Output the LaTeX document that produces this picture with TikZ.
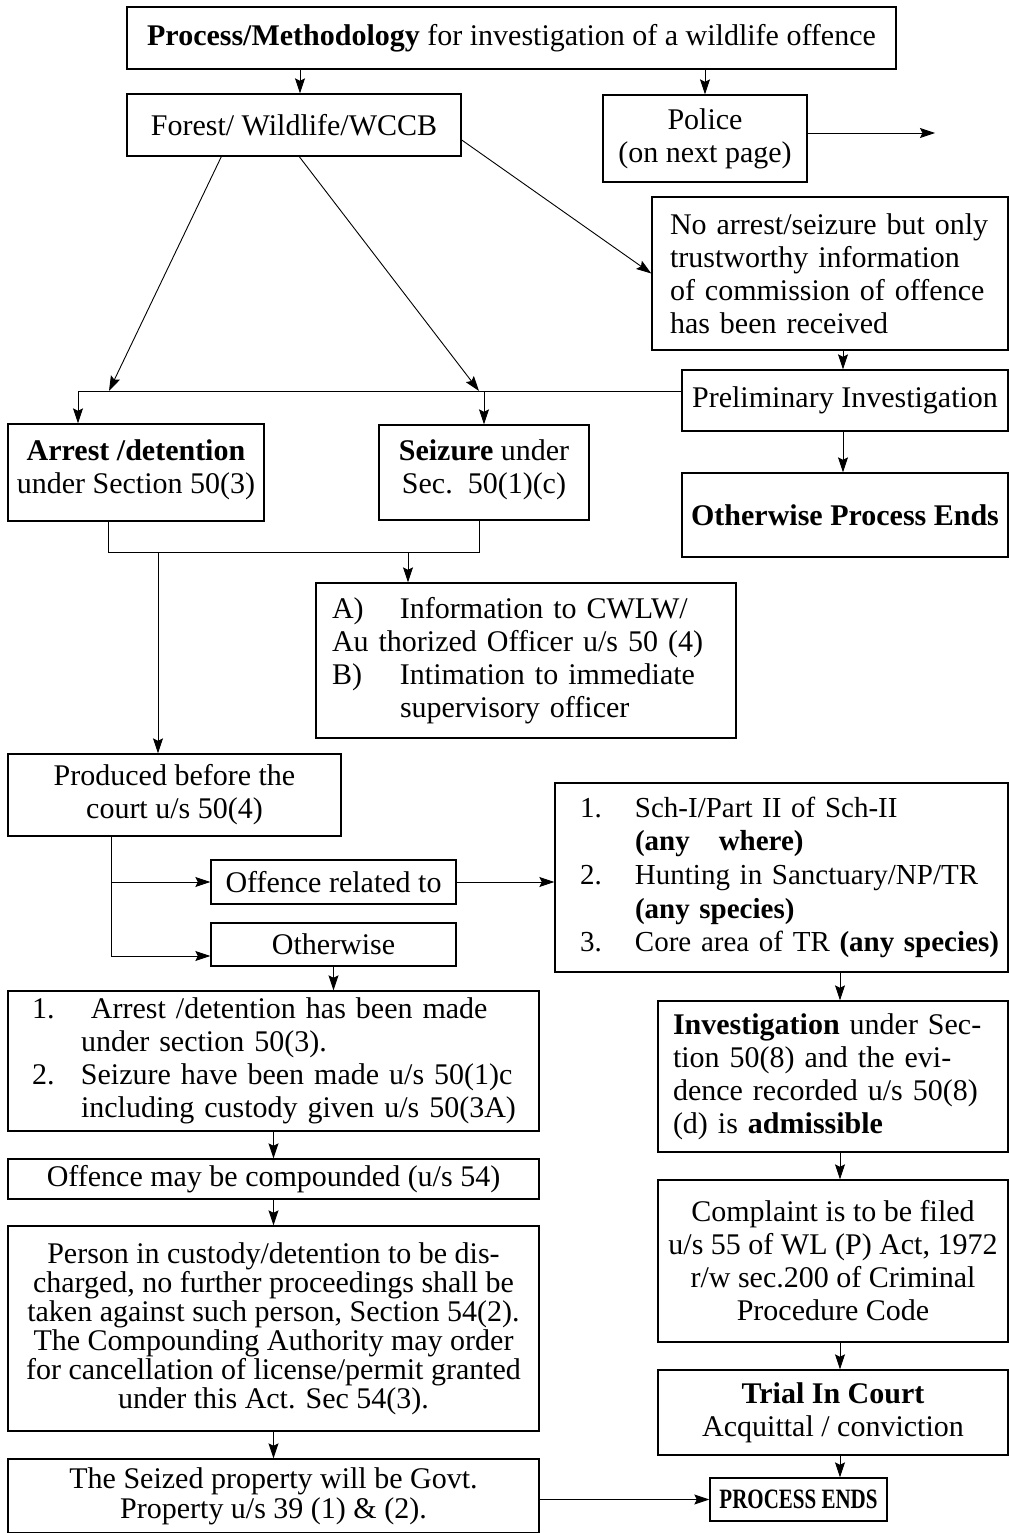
\documentclass[tikz,border=0pt]{standalone}
\usepackage{fontspec}
\setmainfont{Liberation Serif}
\usetikzlibrary{arrows.meta,calc}
\tikzset{
  box/.style={draw, line width=1.4pt, inner sep=0pt, align=center},
  lbox/.style={draw, line width=1.4pt, inner sep=0pt, align=left},
  arr/.style={line width=0.9pt, -{Stealth[length=15pt,width=10pt,inset=2.5pt]}},
  ln/.style={line width=0.9pt},
}
\begin{document}
\begin{tikzpicture}[x=1pt,y=-1pt,font=\fontsize{30}{33}\selectfont]
\fill[white] (0,0) rectangle (1009,1533);
\useasboundingbox (0,0) rectangle (1009,1533);

% ---------- boxes ----------
\node[box, minimum width=769pt, minimum height=62pt] (title) at (511.5,38)
  {\textbf{Process/Methodology} for investigation of a wildlife offence};
\node[box, minimum width=334pt, minimum height=62pt] (forest) at (294,125)
  {Forest/ Wildlife/WCCB};
\node[box, minimum width=204pt, minimum height=87pt] (police) at (705,138.5)
  {Police\\(on next page)};
\node[lbox, minimum width=356pt, minimum height=153pt, text width=320pt] (noarrest) at (830,273.5)
  {\mbox{No arrest/seizure but only}\\\mbox{trustworthy information}\\\mbox{of commission of offence}\\\mbox{has been received}};
\node[box, minimum width=326pt, minimum height=61pt] (prelim) at (845,400.5)
  {Preliminary Investigation};
\node[box, minimum width=326pt, minimum height=84pt] (otherends) at (845,515)
  {\textbf{Otherwise Process Ends}};
\node[box, minimum width=256pt, minimum height=97pt] (arrest) at (136,472.5)
  {\textbf{Arrest /detention}\\under Section 50(3)\\[-22pt]\mbox{}};
\node[box, minimum width=210pt, minimum height=95pt] (seizure) at (484,472.5)
  {\textbf{Seizure} under\\Sec.~~50(1)(c)\\[-22pt]\mbox{}};
\node[lbox, minimum width=420pt, minimum height=155pt, text width=388pt] (info) at (526,660.5)
  {\mbox{\makebox[68pt][l]{A)}Information to CWLW/}\\
   \mbox{Au thorized Officer u/s 50 (4)}\\
   \mbox{\makebox[68pt][l]{B)}Intimation to immediate}\\
   \mbox{\hspace*{68pt}supervisory officer}};
\node[box, minimum width=333pt, minimum height=82pt] (produced) at (174.5,795)
  {Produced before the\\court u/s 50(4)};
\node[box, minimum width=245pt, minimum height=44pt] (offrel) at (333.5,882)
  {Offence related to};
\node[box, minimum width=245pt, minimum height=43pt] (otherwise) at (333.5,944.5)
  {Otherwise};
\node[lbox, minimum width=453pt, minimum height=189pt, text width=403pt,
      font=\fontsize{29}{33.7}\selectfont] (list1) at (781.5,877.5)
  {\mbox{\makebox[55pt][l]{1.}Sch-I/Part II of Sch-II}\\
   \mbox{\hspace*{55pt}\textbf{(any~~~where)}}\\
   \mbox{\makebox[55pt][l]{2.}Hunting in Sanctuary/NP/TR}\\
   \mbox{\hspace*{55pt}\textbf{(any species)}}\\
   \mbox{\makebox[55pt][l]{3.}Core area of TR \textbf{(any species)}}};
\node[lbox, minimum width=350pt, minimum height=151pt, text width=320pt] (invest) at (833,1076.5)
  {\makebox[320pt][s]{\textbf{Investigation} under Sec-}\\
   \makebox[320pt][s]{tion 50(8) and the evi-}\\
   \makebox[320pt][s]{dence recorded u/s 50(8)}\\
   \mbox{(d) is \textbf{admissible}}};
\node[box, minimum width=350pt, minimum height=162pt] (complaint) at (833,1261)
  {Complaint is to be filed\\u/s 55 of WL (P) Act, 1972\\r/w sec.200 of Criminal\\Procedure Code};
\node[box, minimum width=350pt, minimum height=85pt] (trial) at (833,1412.5)
  {\textbf{Trial In Court}\\Acquittal / conviction};
\node[box, minimum width=177pt, minimum height=43pt, font=\fontsize{28}{30}\selectfont] (procends) at (798.5,1499.5)
  {\scalebox{0.75}[1]{\textbf{PROCESS ENDS}}};
\node[lbox, minimum width=531pt, minimum height=140pt, text width=483pt] (list2) at (273.5,1061)
  {\mbox{\makebox[49pt][l]{1.}\ Arrest /detention has been made}\\
   \mbox{\hspace*{49pt}under section 50(3).}\\
   \mbox{\makebox[49pt][l]{2.}Seizure have been made u/s 50(1)c}\\
   \mbox{\hspace*{49pt}including custody given u/s 50(3A)}};
\node[box, minimum width=531pt, minimum height=40pt] (comp) at (273.5,1179)
  {Offence may be compounded (u/s 54)};
\node[box, minimum width=531pt, minimum height=205pt, font=\fontsize{30}{29}\selectfont] (person) at (273.5,1328.5)
  {Person in custody/detention to be dis-\\charged, no further proceedings shall be\\taken against such person, Section 54(2).\\The Compounding Authority may order\\for cancellation of license/permit granted\\under this Act. Sec 54(3).};
\node[box, minimum width=531pt, minimum height=74pt, font=\fontsize{30}{30}\selectfont] (seized) at (273.5,1496)
  {The Seized property will be Govt.\\Property u/s 39 (1) \& (2).};

% ---------- helper coordinates ----------
\coordinate (x78) at (78,0);
\coordinate (x108) at (108,0);
\coordinate (x109) at (109,0);
\coordinate (x111) at (111,0);
\coordinate (x158) at (158,0);
\coordinate (x300) at (300,0);
\coordinate (x408) at (408,0);
\coordinate (x479) at (479,0);
\coordinate (x840) at (840,0);
\coordinate (x843) at (843,0);
\coordinate (pnext) at (935,133);
\coordinate (hl) at ([yshift=9.5pt]prelim.west);
\coordinate (jb) at (108,552);

% ---------- connectors ----------
\draw[arr] (title.south -| x300) -- (forest.north -| x300);
\draw[arr] (title.south -| police.north) -- (police.north);
\draw[arr] (police.east |- pnext) -- (pnext);
\draw[arr] ([xshift=95pt]forest.south west) -- (hl -| x109);
\draw[arr] ([xshift=173pt]forest.south west) -- (hl -| x479);
\draw[arr] ([yshift=-15pt]forest.east) -- (noarrest.west);
\draw[arr] (noarrest.south -| x843) -- (prelim.north -| x843);
\draw[arr] (prelim.south -| x843) -- (otherends.north -| x843);
\draw[ln] (hl) -- (hl -| x78);
\draw[arr] (hl -| x78) -- (arrest.north -| x78);
\draw[arr] (hl -| seizure.north) -- (seizure.north);
\draw[ln] (arrest.south -| x108) -- (jb) -- (jb -| x479) -- (seizure.south -| x479);
\draw[arr] (jb -| x408) -- (info.north -| x408);
\draw[arr] (jb -| x158) -- (produced.north -| x158);
\draw[arr] (produced.south -| x111) |- ([yshift=-11.5pt]otherwise.west);
\draw[arr] (offrel.west -| x111) -- (offrel.west);
\draw[arr] (offrel.east) -- (offrel.east -| list1.west);
\draw[arr] (otherwise.south) -- (list2.north -| otherwise.south);
\draw[arr] (list1.south -| x840) -- (invest.north -| x840);
\draw[arr] (invest.south -| x840) -- (complaint.north -| x840);
\draw[arr] (complaint.south -| x840) -- (trial.north -| x840);
\draw[arr] (trial.south -| x840) -- (procends.north -| x840);
\draw[arr] (list2.south) -- (comp.north);
\draw[arr] (comp.south) -- (person.north);
\draw[arr] (person.south) -- (seized.north);
\draw[arr] (seized.east |- procends.west) -- (procends.west);
\end{tikzpicture}
\end{document}
